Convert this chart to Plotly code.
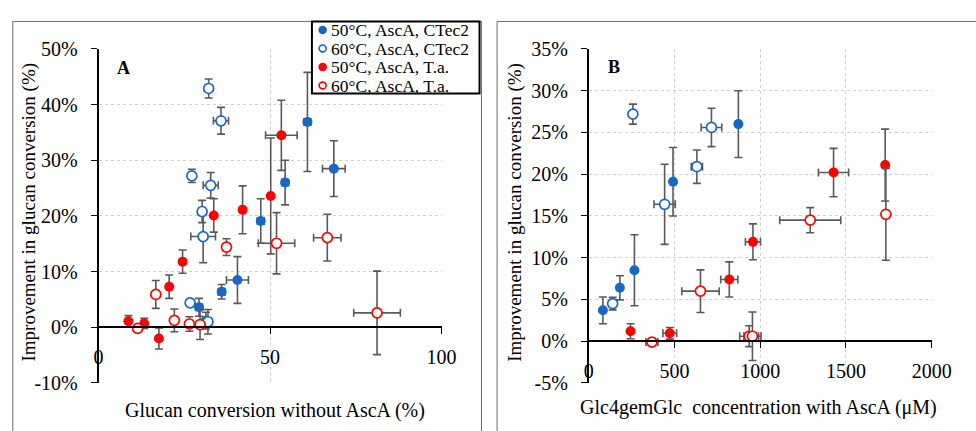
import plotly.graph_objects as go

# ---------------- Panel A: improvement vs. glucan conversion without AscA ----------------
a_ctec50_x = [60.9, 68.6, 54.4, 47.3, 40.5, 35.9, 29.3, 31.3]
a_ctec50_y = [36.9, 28.5, 26.0, 19.1, 8.5, 6.4, 3.6, 1.2]
a_ctec50_xerr = [1.0, 3.3, 1.0, 1.0, 3.2, 1.0, 1.0, 0.8]
a_ctec50_yerr = [8.9, 5.0, 4.0, 4.0, 4.2, 1.3, 1.6, 1.5]

a_ctec60_x = [32.1, 35.7, 27.2, 32.7, 30.2, 30.5, 26.7, 31.9]
a_ctec60_y = [42.9, 37.1, 27.2, 25.5, 20.8, 16.3, 4.4, 1.0]
a_ctec60_xerr = [0.8, 2.2, 1.0, 2.2, 1.0, 3.6, 1.0, 0.8]
a_ctec60_yerr = [1.7, 2.4, 1.2, 2.3, 2.0, 4.7, 0.5, 2.2]

a_ta50_x = [53.3, 50.2, 42.0, 33.6, 24.5, 20.6, 8.7, 13.3, 17.6]
a_ta50_y = [34.5, 23.6, 21.1, 20.1, 11.8, 7.3, 1.1, 0.7, -2.0]
a_ta50_xerr = [4.6, 0, 0, 0, 0, 0, 0, 0, 0]
a_ta50_yerr = [6.3, 10.4, 4.3, 3.0, 2.1, 2.1, 1.0, 0.9, 1.9]

a_ta60_x = [81.2, 66.7, 51.9, 37.3, 16.7, 22.1, 26.5, 29.6, 11.4]
a_ta60_y = [2.6, 16.1, 15.1, 14.4, 5.9, 1.25, 0.6, 0.5, -0.2]
a_ta60_xerr = [6.8, 4.0, 5.3, 1.0, 0, 0, 0, 0, 0]
a_ta60_yerr = [7.5, 4.2, 5.5, 1.5, 2.5, 2.05, 1.3, 2.7, 0.3]

# ---------------- Panel B: improvement vs. Glc4gemGlc concentration ----------------
b_ctec50_x = [83, 182, 267, 492, 873]
b_ctec50_y = [3.7, 6.4, 8.5, 19.1, 26.0]
b_ctec50_xerr = [0, 0, 0, 12, 0]
b_ctec50_yerr = [1.6, 1.45, 4.25, 4.1, 4.0]

b_ctec60_x = [258, 716, 631, 443, 140]
b_ctec60_y = [27.2, 25.6, 20.9, 16.4, 4.5]
b_ctec60_xerr = [0, 60, 33, 62, 15]
b_ctec60_yerr = [1.2, 2.3, 2.0, 4.8, 0.75]

b_ta50_x = [1729, 1428, 958, 820, 473, 244]
b_ta50_y = [21.1, 20.2, 11.9, 7.4, 0.95, 1.2]
b_ta50_xerr = [0, 88, 44, 50, 40, 0]
b_ta50_yerr = [4.3, 2.9, 2.15, 2.1, 0.7, 0.9]

b_ta60_x = [1733, 1292, 652, 369, 936, 955]
b_ta60_y = [15.2, 14.5, 6.0, -0.1, 0.6, 0.6]
b_ta60_xerr = [0, 178, 109, 35, 55, 50]
b_ta60_yerr = [5.5, 1.5, 2.55, 0.2, 1.25, 2.9]

series_names = ["50°C, AscA, CTec2", "60°C, AscA, CTec2", "50°C, AscA, T.a.", "60°C, AscA, T.a."]

a_yticks = [-10, 0, 10, 20, 30, 40, 50]
a_yticktext = ["-10%", "0%", "10%", "20%", "30%", "40%", "50%"]
b_yticks = [-5, 0, 5, 10, 15, 20, 25, 30, 35]
b_yticktext = ["-5%", "0%", "5%", "10%", "15%", "20%", "25%", "30%", "35%"]

BLUE = "#1668c2"
RED = "#ff0000"
ERR = "#595959"
FONT = "Liberation Serif"
W, H = 976, 431

series_colors = [BLUE, BLUE, RED, RED]
series_filled = [True, False, True, False]

fig = go.Figure()


def add_series(x, y, xerr, yerr, idx, xa, ya):
    color, filled = series_colors[idx], series_filled[idx]
    fig.add_trace(go.Scatter(
        x=x, y=y, mode="markers", name=series_names[idx], showlegend=False,
        xaxis=xa, yaxis=ya,
        marker=dict(size=10, symbol="circle",
                    color=color if filled else "white",
                    line=dict(color=color, width=1.7 if not filled else 0)),
        error_x=dict(type="data", array=xerr, color=ERR, thickness=1.6, width=4),
        error_y=dict(type="data", array=yerr, color=ERR, thickness=1.6, width=4),
    ))


add_series(a_ctec50_x, a_ctec50_y, a_ctec50_xerr, a_ctec50_yerr, 0, "x", "y")
add_series(a_ctec60_x, a_ctec60_y, a_ctec60_xerr, a_ctec60_yerr, 1, "x", "y")
add_series(a_ta50_x, a_ta50_y, a_ta50_xerr, a_ta50_yerr, 2, "x", "y")
add_series(a_ta60_x, a_ta60_y, a_ta60_xerr, a_ta60_yerr, 3, "x", "y")

add_series(b_ctec50_x, b_ctec50_y, b_ctec50_xerr, b_ctec50_yerr, 0, "x2", "y2")
add_series(b_ctec60_x, b_ctec60_y, b_ctec60_xerr, b_ctec60_yerr, 1, "x2", "y2")
add_series(b_ta50_x, b_ta50_y, b_ta50_xerr, b_ta50_yerr, 2, "x2", "y2")
add_series(b_ta60_x, b_ta60_y, b_ta60_xerr, b_ta60_yerr, 3, "x2", "y2")

# plot areas in pixels
top, bottom = 40, 392
ydom = [1 - bottom / H, 1 - top / H]


def zero_pos(lo, hi):
    # paper y of the value 0 on an axis spanning [lo, hi]
    frac = (0 - lo) / (hi - lo)
    return ydom[0] + frac * (ydom[1] - ydom[0])


grid = dict(showgrid=True, gridcolor="#cfcfcf", griddash="dot", gridwidth=1)
tickf = dict(family=FONT, size=20, color="black")

common_x = dict(**grid, showline=True, linecolor="black", linewidth=1.6,
                ticks="outside", ticklen=6, tickcolor="black", tickwidth=1.4,
                tickfont=tickf, zeroline=False, anchor="free", ticklabelstandoff=6)
common_y = dict(**grid, showline=True, linecolor="black", linewidth=1.6,
                ticks="outside", ticklen=6, tickcolor="black", tickwidth=1.4,
                tickfont=tickf, zeroline=False, ticklabelstandoff=9)

fig.update_layout(
    width=W, height=H,
    margin=dict(l=0, r=0, t=0, b=0),
    paper_bgcolor="white", plot_bgcolor="white",
    font=dict(family=FONT, color="black"),
    xaxis=dict(domain=[96 / W, 448 / W], range=[0, 100], tickvals=[0, 50, 100],
               position=zero_pos(-10, 50), **common_x),
    yaxis=dict(domain=ydom, range=[-10, 50], tickvals=a_yticks, ticktext=a_yticktext,
               anchor="x", **common_y),
    xaxis2=dict(domain=[599 / W, 951 / W], range=[0, 2000], tickvals=[0, 500, 1000, 1500, 2000],
                position=zero_pos(-5, 35), **common_x),
    yaxis2=dict(domain=ydom, range=[-5, 35], tickvals=b_yticks, ticktext=b_yticktext,
                anchor="x2", **common_y),
    showlegend=False,
)

# panel frames
fig.add_shape(type="rect", xref="paper", yref="paper",
              x0=8 / W, x1=489 / W, y0=-0.05, y1=1 - 11 / H,
              line=dict(color="#6e6e6e", width=1), layer="below")
fig.add_shape(type="rect", xref="paper", yref="paper",
              x0=505 / W, x1=1.05, y0=-0.05, y1=1 - 11 / H,
              line=dict(color="#6e6e6e", width=1), layer="below")

# legend box with its symbols and labels
lg_left, lg_right, lg_top, lg_bottom = 315, 487, 11, 87
fig.add_shape(type="rect", xref="paper", yref="paper",
              x0=lg_left / W, x1=lg_right / W, y0=1 - lg_bottom / H, y1=1 - lg_top / H,
              fillcolor="white", line=dict(color="black", width=2), layer="above")
row_y = [20, 39.5, 59, 78.5]
r = 3.6
for i, name in enumerate(series_names):
    cy = row_y[i]
    fig.add_shape(type="circle", xref="paper", yref="paper",
                  x0=(326 - r) / W, x1=(326 + r) / W, y0=1 - (cy + r) / H, y1=1 - (cy - r) / H,
                  fillcolor=series_colors[i] if series_filled[i] else "white",
                  line=dict(color=series_colors[i], width=1.6), layer="above")
    fig.add_annotation(xref="paper", yref="paper", x=334 / W, y=1 - cy / H,
                       xanchor="left", yanchor="middle", showarrow=False, text=name,
                       height=19, borderpad=0, valign="middle",
                       font=dict(family=FONT, size=17.5, color="black"))

title_font = dict(family=FONT, size=19, color="black")
annots = [
    dict(x=277 / W, y=1 - 421 / H, text="Glucan conversion without AscA (%)", textangle=0,
         font=dict(family=FONT, size=20, color="black")),
    dict(x=773 / W, y=1 - 418 / H, text="Glc4gemGlc\u00a0 concentration with AscA (\u03bcM)", textangle=0,
         font=dict(family=FONT, size=20, color="black")),
    dict(x=25 / W, y=1 - 212 / H, text="Improvement in glucan conversion (%)", textangle=-90,
         font=title_font),
    dict(x=524 / W, y=1 - 212 / H, text="Improvement in glucan conversion (%)", textangle=-90,
         font=title_font),
]
for a in annots:
    fig.add_annotation(xref="paper", yref="paper", xanchor="center", yanchor="middle",
                       showarrow=False, **a)

for lbl, px, py in [("A", 122, 60), ("B", 625, 59)]:
    fig.add_annotation(xref="paper", yref="paper", x=px / W, y=1 - py / H,
                       xanchor="center", yanchor="middle", showarrow=False,
                       text="<b>%s</b>" % lbl, font=dict(family=FONT, size=18, color="black"))

fig.write_html("out.html")
